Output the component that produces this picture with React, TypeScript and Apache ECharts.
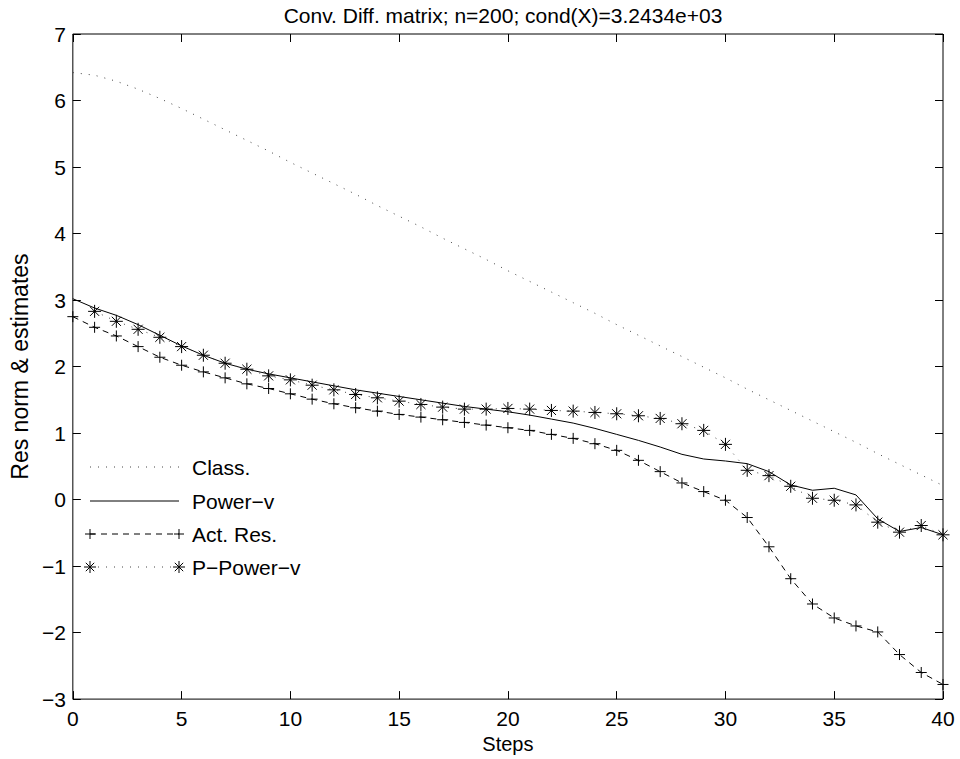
import React, { useEffect, useRef } from "react";
import * as echarts from "echarts";

// ---- data (x = step index 0..40) ----
const xTicks = [0, 5, 10, 15, 20, 25, 30, 35, 40];
const yTicks = [-3, -2, -1, 0, 1, 2, 3, 4, 5, 6, 7];

const classVals = [
  6.42, 6.38, 6.29, 6.17, 6.03, 5.88, 5.72, 5.56, 5.40, 5.24,
  5.07, 4.91, 4.75, 4.59, 4.42, 4.26, 4.10, 3.93, 3.77, 3.61,
  3.44, 3.28, 3.12, 2.96, 2.80, 2.63, 2.47, 2.31, 2.15, 1.99,
  1.83, 1.66, 1.50, 1.34, 1.18, 1.02, 0.86, 0.69, 0.53, 0.37,
  0.21,
];

const powerVals = [
  3.02, 2.88, 2.77, 2.63, 2.47, 2.31, 2.17, 2.05, 1.96, 1.89,
  1.83, 1.77, 1.71, 1.65, 1.60, 1.55, 1.50, 1.45, 1.40, 1.36,
  1.32, 1.27, 1.21, 1.15, 1.07, 0.98, 0.89, 0.79, 0.68, 0.61,
  0.58, 0.54, 0.42, 0.22, 0.14, 0.17, 0.07, -0.29, -0.48, -0.42,
  -0.53,
];

const actResVals = [
  2.75, 2.59, 2.46, 2.30, 2.14, 2.02, 1.92, 1.83, 1.74, 1.67,
  1.59, 1.51, 1.44, 1.38, 1.33, 1.28, 1.24, 1.20, 1.16, 1.12,
  1.08, 1.04, 0.98, 0.92, 0.84, 0.74, 0.59, 0.42, 0.25, 0.12,
  -0.01, -0.27, -0.71, -1.19, -1.57, -1.78, -1.90, -1.99, -2.33, -2.60,
  -2.78,
];

const pPowerVals: (number | null)[] = [
  null, 2.83, 2.68, 2.56, 2.44, 2.30, 2.17, 2.05, 1.96, 1.86,
  1.80, 1.72, 1.65, 1.58, 1.53, 1.48, 1.43, 1.39, 1.36, 1.36,
  1.37, 1.36, 1.34, 1.33, 1.31, 1.29, 1.26, 1.22, 1.14, 1.04,
  0.83, 0.44, 0.36, 0.20, 0.02, -0.01, -0.08, -0.34, -0.49, -0.39,
  -0.53,
];

const legendNames = ["Class.", "Power\u2212v", "Act. Res.", "P\u2212Power\u2212v"];
const titleText = "Conv. Diff. matrix; n=200; cond(X)=3.2434e+03";

const FONT = '"Liberation Sans", Arial, Helvetica, sans-serif';

const PLUS_PATH = "path://M0,-5L0,5M-5,0L5,0";
const STAR_PATH =
  "path://M0,-6L0,6M-6,0L6,0M-4.2,-4.2L4.2,4.2M-4.2,4.2L4.2,-4.2";

const toPairs = (arr: (number | null)[]) =>
  arr
    .map((v, i) => (v === null ? null : [i, v]))
    .filter((p) => p !== null) as number[][];

const fmtNum = (v: number) => (v < 0 ? "\u2212" + Math.abs(v) : String(v));

function plusMarker(cx: number, cy: number, r: number) {
  const st = { stroke: "#000", lineWidth: 1 };
  return [
    { type: "line", shape: { x1: cx - r, y1: cy, x2: cx + r, y2: cy }, style: st },
    { type: "line", shape: { x1: cx, y1: cy - r, x2: cx, y2: cy + r }, style: st },
  ];
}

function starMarker(cx: number, cy: number, r: number) {
  const d = r * 0.7;
  const st = { stroke: "#000", lineWidth: 1 };
  return [
    { type: "line", shape: { x1: cx - r, y1: cy, x2: cx + r, y2: cy }, style: st },
    { type: "line", shape: { x1: cx, y1: cy - r, x2: cx, y2: cy + r }, style: st },
    { type: "line", shape: { x1: cx - d, y1: cy - d, x2: cx + d, y2: cy + d }, style: st },
    { type: "line", shape: { x1: cx - d, y1: cy + d, x2: cx + d, y2: cy - d }, style: st },
  ];
}

export default function App() {
  const ref = useRef<HTMLDivElement>(null);

  useEffect(() => {
    if (!ref.current) return;
    const chart = echarts.init(ref.current, undefined, { renderer: "svg" });

    const lx1 = 90;
    const lx2 = 179;
    const tx = 192;
    const ly = [467, 501, 534, 567];
    const dotted = [1, 7];
    const dashed = [6, 5];

    const legendGraphics: any[] = [
      { type: "line", shape: { x1: lx1, y1: ly[0], x2: lx2, y2: ly[0] }, style: { stroke: "#444", lineWidth: 1, lineDash: dotted } },
      { type: "line", shape: { x1: lx1, y1: ly[1], x2: lx2, y2: ly[1] }, style: { stroke: "#000", lineWidth: 1 } },
      { type: "line", shape: { x1: lx1, y1: ly[2], x2: lx2, y2: ly[2] }, style: { stroke: "#000", lineWidth: 1, lineDash: dashed } },
      ...plusMarker(lx1, ly[2], 5),
      ...plusMarker(lx2, ly[2], 5),
      { type: "line", shape: { x1: lx1, y1: ly[3], x2: lx2, y2: ly[3] }, style: { stroke: "#444", lineWidth: 1, lineDash: dotted } },
      ...starMarker(lx1, ly[3], 6),
      ...starMarker(lx2, ly[3], 6),
      ...legendNames.map((n, i) => ({
        type: "text",
        x: tx,
        y: ly[i],
        style: {
          text: n,
          fill: "#000",
          fontSize: 21,
          fontFamily: FONT,
          align: "left",
          verticalAlign: "middle",
        },
      })),
      {
        type: "text",
        x: 503,
        y: 15,
        style: {
          text: titleText,
          fill: "#000",
          fontSize: 21,
          fontFamily: FONT,
          align: "center",
          verticalAlign: "middle",
        },
      },
    ];

    const tickCommon = {
      axisLine: { show: false, onZero: false },
      axisTick: { show: true, inside: true, length: 8, lineStyle: { color: "#000", width: 1 } },
      splitLine: { show: false },
    };

    const option: any = {
      animation: false,
      backgroundColor: "#fff",
      grid: {
        left: 68,
        right: 17,
        top: 34,
        bottom: 59,
        show: true,
        borderColor: "#000",
        borderWidth: 1,
        backgroundColor: "transparent",
      },
      xAxis: [
        {
          type: "value",
          min: xTicks[0],
          max: xTicks[xTicks.length - 1],
          interval: xTicks[1] - xTicks[0],
          position: "bottom",
          ...tickCommon,
          axisLabel: {
            color: "#000",
            fontSize: 21,
            fontFamily: FONT,
            margin: 9,
            showMinLabel: true,
            showMaxLabel: true,
          },
          name: "Steps",
          nameLocation: "middle",
          nameGap: 33,
          nameTextStyle: { color: "#000", fontSize: 20, fontFamily: FONT },
        },
        {
          type: "value",
          min: xTicks[0],
          max: xTicks[xTicks.length - 1],
          interval: xTicks[1] - xTicks[0],
          position: "top",
          ...tickCommon,
          axisLabel: { show: false },
        },
      ],
      yAxis: [
        {
          type: "value",
          min: yTicks[0],
          max: yTicks[yTicks.length - 1],
          interval: 1,
          position: "left",
          ...tickCommon,
          axisLabel: {
            color: "#000",
            fontSize: 21,
            fontFamily: FONT,
            margin: 7,
            formatter: fmtNum,
            showMinLabel: true,
            showMaxLabel: true,
          },
          name: "Res norm & estimates",
          nameLocation: "middle",
          nameGap: 38,
          nameTextStyle: { color: "#000", fontSize: 23, fontFamily: FONT },
        },
        {
          type: "value",
          min: yTicks[0],
          max: yTicks[yTicks.length - 1],
          interval: 1,
          position: "right",
          ...tickCommon,
          axisLabel: { show: false },
        },
      ],
      series: [
        {
          type: "line",
          name: legendNames[0],
          data: toPairs(classVals),
          symbol: "none",
          lineStyle: { color: "#444", width: 1, type: dotted },
          z: 2,
        },
        {
          type: "line",
          name: legendNames[1],
          data: toPairs(powerVals),
          symbol: "none",
          lineStyle: { color: "#000", width: 1, type: "solid" },
          z: 3,
        },
        {
          type: "line",
          name: legendNames[2],
          data: toPairs(actResVals),
          symbol: PLUS_PATH,
          symbolSize: 11,
          showAllSymbol: true,
          itemStyle: { color: "#000", borderColor: "#000", borderWidth: 1 },
          lineStyle: { color: "#000", width: 1, type: dashed },
          z: 4,
        },
        {
          type: "line",
          name: legendNames[3],
          data: toPairs(pPowerVals),
          symbol: STAR_PATH,
          symbolSize: 13,
          showAllSymbol: true,
          itemStyle: { color: "#000", borderColor: "#000", borderWidth: 1 },
          lineStyle: { color: "#444", width: 1, type: dotted },
          z: 5,
        },
      ],
      graphic: legendGraphics,
    };

    chart.setOption(option);
    return () => chart.dispose();
  }, []);

  return (
    <div
      ref={ref}
      style={{ position: "absolute", left: 0, top: 0, width: 960, height: 759, background: "#fff" }}
    />
  );
}
